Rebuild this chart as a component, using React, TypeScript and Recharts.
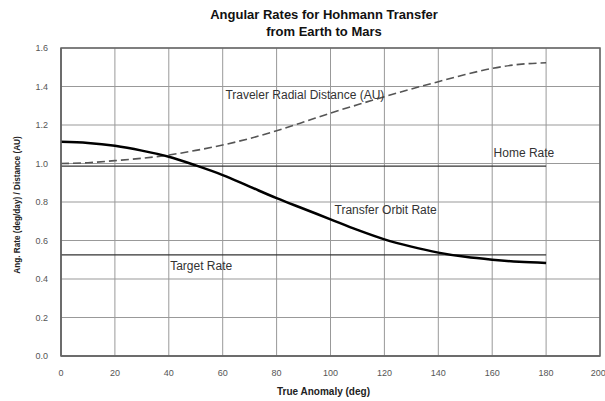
import { LineChart, Line, XAxis, YAxis, CartesianGrid, ReferenceArea, ReferenceDot } from 'recharts';

// true anomaly (deg)
const anomaly = [0, 10, 20, 30, 40, 50, 60, 70, 80, 90, 100, 110, 120, 130, 140, 150, 160, 170, 180];
// transfer orbit angular rate (deg/day)
const transferRate = [1.113, 1.107, 1.092, 1.067, 1.035, 0.99, 0.94, 0.88, 0.82, 0.765, 0.71, 0.655, 0.606, 0.568, 0.537, 0.515, 0.5, 0.489, 0.483];
// traveler radial distance (AU)
const radialDistance = [1.0, 1.004, 1.015, 1.027, 1.044, 1.068, 1.096, 1.13, 1.17, 1.215, 1.262, 1.305, 1.347, 1.387, 1.425, 1.462, 1.494, 1.515, 1.523];
const homeRate = 0.986;
const targetRate = 0.525;

const xTicks = [0, 20, 40, 60, 80, 100, 120, 140, 160, 180, 200];
const yTicks = [0, 0.2, 0.4, 0.6, 0.8, 1.0, 1.2, 1.4, 1.6];

const data = anomaly.map((a, i) => ({
    anomaly: a,
    transfer: transferRate[i],
    distance: radialDistance[i],
    home: homeRate,
    target: targetRate,
}));

const FONT = '"Liberation Sans", Arial, Helvetica, sans-serif';

const noteLabel = (value: string) => ({
    value,
    position: 'right' as const,
    offset: 0,
    fill: '#333',
    fontSize: 12,
    fontFamily: FONT,
});

// axis titles drawn by hand so they can sit a little off the plot centre, like the original
const XTitle = ({ viewBox }: any) => (
    <text x={viewBox.x + viewBox.width / 2 - 7} y={viewBox.y + 39} textAnchor="middle" fill="#222" fontSize={10} fontWeight="bold" fontFamily={FONT}>
        True Anomaly (deg)
    </text>
);

const YTitle = ({ viewBox }: any) => {
    const x = viewBox.x - 1.5;
    const y = viewBox.y + viewBox.height / 2 + 3;
    return (
        <text x={x} y={y} transform={`rotate(-90, ${x}, ${y})`} textAnchor="middle" fill="#222" fontSize={8.2} fontWeight="bold" fontFamily={FONT}>
            Ang. Rate (deg/day) / Distance (AU)
        </text>
    );
};

function App() {
    return (
        <div style={{ position: 'absolute', left: 0, top: 0, width: 605, height: 401, background: '#fff', fontFamily: FONT }}>
            <div style={{ position: 'absolute', left: 0, top: 6, width: 648, textAlign: 'center', fontWeight: 'bold', fontSize: 13, lineHeight: '17px', color: '#111' }}>
                Angular Rates for Hohmann Transfer
                <br />
                from Earth to Mars
            </div>
            <LineChart width={605} height={401} data={data} margin={{ top: 48, right: 5, bottom: 15, left: 21 }}>
                <CartesianGrid stroke="#999" strokeWidth={1} horizontalValues={yTicks} verticalValues={xTicks} />
                <XAxis
                    dataKey="anomaly"
                    type="number"
                    domain={[0, 200]}
                    ticks={xTicks}
                    height={30}
                    tickLine={false}
                    tickSize={0}
                    tickMargin={14}
                    axisLine={{ stroke: '#666', strokeWidth: 1.5 }}
                    tick={{ fill: '#555', fontSize: 9, fontFamily: FONT }}
                    label={{ content: XTitle }}
                />
                <YAxis
                    type="number"
                    domain={[0, 1.6]}
                    ticks={yTicks}
                    width={40}
                    tickLine={false}
                    tickSize={0}
                    tickMargin={13}
                    axisLine={{ stroke: '#666', strokeWidth: 1.5 }}
                    tickFormatter={(v: number) => v.toFixed(1)}
                    tick={{ fill: '#555', fontSize: 9, fontFamily: FONT }}
                    label={{ content: YTitle }}
                />
                <ReferenceArea x1={0} x2={200} y1={0} y2={1.6} fill="none" stroke="#666" strokeWidth={1.5} />
                <Line dataKey="home" stroke="#333" strokeWidth={1.3} dot={false} isAnimationActive={false} />
                <Line dataKey="target" stroke="#333" strokeWidth={1.3} dot={false} isAnimationActive={false} />
                <Line dataKey="distance" type="monotone" stroke="#555" strokeWidth={1.6} strokeDasharray="8 4" dot={false} isAnimationActive={false} />
                <Line dataKey="transfer" type="monotone" stroke="#000" strokeWidth={2.5} dot={false} isAnimationActive={false} />
                <ReferenceDot x={61} y={1.356} r={0} label={noteLabel('Traveler Radial Distance (AU)')} />
                <ReferenceDot x={160.5} y={1.055} r={0} label={noteLabel('Home Rate')} />
                <ReferenceDot x={101.5} y={0.758} r={0} label={noteLabel('Transfer Orbit Rate')} />
                <ReferenceDot x={40.5} y={0.468} r={0} label={noteLabel('Target Rate')} />
            </LineChart>
        </div>
    );
}

export default App;
